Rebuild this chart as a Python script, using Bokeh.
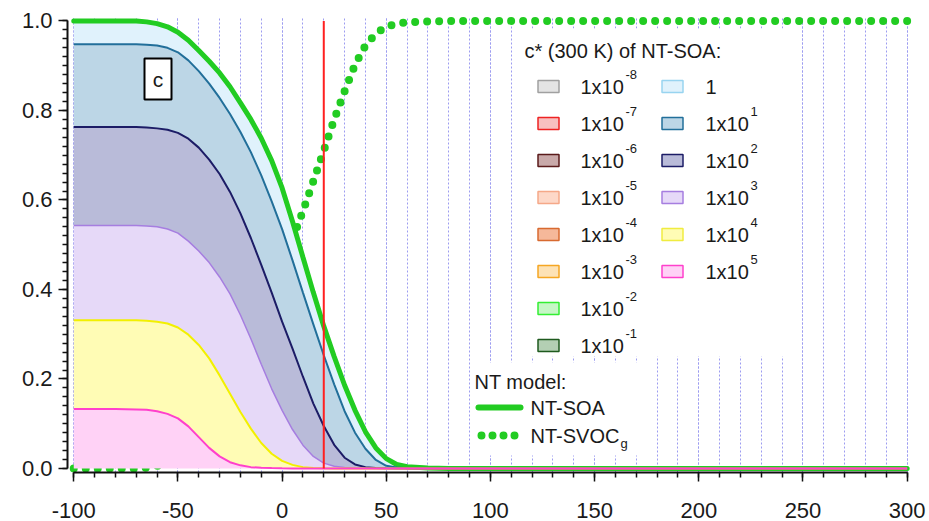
from bokeh.plotting import figure
from bokeh.models import Range1d, SingleIntervalTicker, PrintfTickFormatter
from bokeh.core.properties import value
from bokeh.embed import file_html
from bokeh.resources import INLINE

# ---------------- data ----------------
temp = [-100, -90, -80, -70, -65, -60, -55, -50, -45, -40, -35, -30, -25, -20, -15, -10, -5, 0,
        5, 10, 15, 20, 25, 30, 35, 40, 45, 50, 55, 60, 70, 80, 100, 150, 200, 250, 300]

# cumulative NT-SOA mass fraction (stack tops, highest volatility at the bottom)
cum_1e5 = [0.133, 0.133, 0.133, 0.132, 0.131, 0.128, 0.122, 0.112, 0.094, 0.070, 0.046, 0.027, 0.014,
           0.007, 0.003, 0.0015, 0.0008, 0.0004, 0.0002] + [0.0] * 18
cum_1e4 = [0.331, 0.331, 0.331, 0.331, 0.330, 0.328, 0.324, 0.315, 0.299, 0.276, 0.246, 0.208, 0.167,
           0.126, 0.089, 0.057, 0.033, 0.017, 0.008, 0.003, 0.0012, 0.0005, 0.0002] + [0.0] * 14
cum_1e3 = [0.543, 0.543, 0.543, 0.543, 0.542, 0.540, 0.535, 0.526, 0.508, 0.486, 0.460, 0.428, 0.390,
           0.343, 0.290, 0.233, 0.178, 0.130, 0.087, 0.052, 0.027, 0.012, 0.005, 0.002, 0.0008,
           0.0003] + [0.0] * 11
cum_1e2 = [0.763, 0.763, 0.763, 0.763, 0.762, 0.760, 0.757, 0.750, 0.737, 0.717, 0.690, 0.658, 0.618,
           0.570, 0.515, 0.455, 0.393, 0.328, 0.268, 0.205, 0.145, 0.095, 0.053, 0.024, 0.009, 0.003,
           0.001, 0.0003] + [0.0] * 9
cum_1e1 = [0.948, 0.948, 0.948, 0.948, 0.947, 0.945, 0.940, 0.930, 0.912, 0.888, 0.860, 0.828, 0.792,
           0.752, 0.707, 0.655, 0.597, 0.535, 0.465, 0.393, 0.322, 0.253, 0.188, 0.128, 0.080, 0.044,
           0.019, 0.006, 0.002, 0.0005] + [0.0] * 7
nt_soa = [1.0, 1.0, 1.0, 1.0, 0.998, 0.994, 0.987, 0.975, 0.957, 0.934, 0.910, 0.884, 0.853, 0.817,
          0.780, 0.738, 0.688, 0.627, 0.552, 0.472, 0.393, 0.318, 0.250, 0.186, 0.130, 0.082, 0.046,
          0.022, 0.009, 0.004, 0.001] + [0.0] * 6
nt_svoc_g = [0.0, 0.0, 0.0, 0.0, 0.002, 0.006, 0.013, 0.025, 0.043, 0.066, 0.090, 0.116, 0.147, 0.183,
             0.220, 0.262, 0.312, 0.380, 0.512, 0.575, 0.642, 0.710, 0.780, 0.843, 0.902, 0.945, 0.972,
             0.987, 0.994, 0.997, 0.999, 1.0, 1.0, 1.0, 1.0, 1.0, 1.0]

ref_temp = 20

left_labels = ["-8", "-7", "-6", "-5", "-4", "-3", "-2", "-1"]
right_labels = ["", "1", "2", "3", "4", "5"]

# ---------------- styles ----------------
left_fill = ["#e4e4e4", "#f8c0c0", "#c9a9a9", "#fdd8c8", "#f5b89a", "#fde2b5", "#c6f7c6", "#b3cfb3"]
left_line = ["#a0a0a0", "#ee2222", "#5a1a1a", "#f5a888", "#d86a30", "#f5a623", "#33ee33", "#1e5a1e"]
right_fill = ["#e0f2fc", "#bcd6e6", "#b9bbd9", "#e6d9f8", "#fffcb5", "#ffd2f6"]
right_line = ["#98d4f0", "#226f9a", "#1c1c66", "#a67ee0", "#f0ec40", "#ff40cc"]
GREEN = "#22cc22"
FONT = "Liberation Sans"

X0, X1 = -103, 304
Y0, Y1 = -0.009, 1.01
FL, FT, FW, FH = 67, 16, 848, 456


def dx(px):
    return X0 + (px - FL) / FW * (X1 - X0)


def dy(py):
    return Y1 - (py - FT) / FH * (Y1 - Y0)


p = figure(frame_width=FW, frame_height=FH, output_backend="svg", toolbar_location=None,
           x_range=Range1d(X0, X1), y_range=Range1d(Y0, Y1),
           min_border_left=FL, min_border_top=FT, min_border_right=929 - FL - FW,
           min_border_bottom=521 - FT - FH)
p.outline_line_color = None
p.background_fill_color = "white"
p.border_fill_color = "white"

# axes
p.xaxis.ticker = SingleIntervalTicker(interval=50, num_minor_ticks=5)
p.yaxis.ticker = SingleIntervalTicker(interval=0.2, num_minor_ticks=10)
p.xaxis.formatter = PrintfTickFormatter(format="%d")
p.yaxis.formatter = PrintfTickFormatter(format="%.1f")
p.xaxis.bounds = (-100, 300)
p.yaxis.bounds = (0, 1)
for ax in (p.xaxis, p.yaxis):
    ax.axis_line_width = 2
    ax.axis_line_color = "#111111"
    ax.major_tick_line_color = "#111111"
    ax.minor_tick_line_color = "#111111"
    ax.major_tick_line_width = 1.5
    ax.minor_tick_line_width = 1.5
    ax.major_tick_in = 0
    ax.minor_tick_in = 0
    ax.major_tick_out = 9
    ax.minor_tick_out = 5
    ax.major_label_text_font = FONT
    ax.major_label_text_font_size = "22px"
    ax.major_label_text_color = "#1a1a1a"
p.xaxis.major_label_standoff = 21
p.yaxis.major_label_standoff = 6

p.ygrid.grid_line_color = None
p.xgrid.grid_line_color = "#9c9cf0"
p.xgrid.grid_line_dash = "2 2"
p.xgrid.minor_grid_line_color = "#9c9cf0"
p.xgrid.minor_grid_line_dash = "2 2"

# NT-SVOC_g dotted line (drawn beneath the stacked areas)
p.line(temp, nt_svoc_g, line_color=GREEN, line_width=8, line_dash="0 12", line_cap="round")

# stacked areas
zero = [0.0] * len(temp)
stack = [zero, cum_1e5, cum_1e4, cum_1e3, cum_1e2, cum_1e1, nt_soa]
fills = [right_fill[5], right_fill[4], right_fill[3], right_fill[2], right_fill[1], right_fill[0]]
for i in range(6):
    p.varea(x=temp, y1=stack[i], y2=stack[i + 1], fill_color=fills[i], fill_alpha=1.0)

p.line(temp, nt_soa, line_color=right_line[0], line_width=1.5)
p.line(temp, nt_soa, line_color=GREEN, line_width=5, line_cap="round")
p.line(temp, cum_1e1, line_color=right_line[1], line_width=2)
p.line(temp, cum_1e2, line_color=right_line[2], line_width=2)
p.line(temp, cum_1e3, line_color=right_line[3], line_width=1.5)
p.line(temp, cum_1e4, line_color="#f2f000", line_width=2)
p.line(temp, cum_1e5, line_color=right_line[5], line_width=2)

p.segment(x0=[ref_temp], y0=[0], x1=[ref_temp], y1=[1.0], line_color="#ff2020", line_width=2)

# legend backgrounds
p.quad(left=[dx(515), dx(470)], right=[dx(792), dx(650)], top=[dy(28), dy(362)],
       bottom=[dy(356), dy(455)], fill_color="white", line_color=None)

# legend
tf = value(FONT)
p.text(x=[dx(524)], y=[dy(50)], text=["c* (300 K) of NT-SOA:"], text_font=tf,
       text_font_size=value("20px"), text_baseline="middle", text_color="#1a1a1a")
rows = [86 + 37 * i for i in range(8)]
p.rect(x=[dx(548)] * 8, y=[dy(r) for r in rows], width=21, height=12, width_units="screen",
       height_units="screen", fill_color=left_fill, line_color=left_line, line_width=1.5)
p.rect(x=[dx(672)] * 6, y=[dy(r) for r in rows[:6]], width=21, height=12, width_units="screen",
       height_units="screen", fill_color=right_fill, line_color=right_line, line_width=1.5)
p.text(x=[dx(580)] * 8, y=[dy(r) for r in rows], text=["1x10"] * 8, text_font=tf,
       text_font_size=value("20px"), text_baseline="middle", text_color="#1a1a1a")
p.text(x=[dx(625)] * 8, y=[dy(r - 12) for r in rows], text=left_labels, text_font=tf,
       text_font_size=value("13px"), text_baseline="middle", text_color="#1a1a1a")
p.text(x=[dx(705)] * 6, y=[dy(r) for r in rows[:6]], text=["1"] + ["1x10"] * 5, text_font=tf,
       text_font_size=value("20px"), text_baseline="middle", text_color="#1a1a1a")
p.text(x=[dx(750)] * 5, y=[dy(r - 12) for r in rows[1:6]], text=right_labels[1:], text_font=tf,
       text_font_size=value("13px"), text_baseline="middle", text_color="#1a1a1a")

p.text(x=[dx(474)], y=[dy(381)], text=["NT model:"], text_font=tf,
       text_font_size=value("20px"), text_baseline="middle", text_color="#1a1a1a")
p.line(x=[dx(478), dx(520)], y=[dy(407), dy(407)], line_color=GREEN, line_width=6, line_cap="round")
p.line(x=[dx(481), dx(518)], y=[dy(435), dy(435)], line_color=GREEN, line_width=8,
       line_dash="0 11", line_cap="round")
p.text(x=[dx(530), dx(530)], y=[dy(407), dy(435)], text=["NT-SOA", "NT-SVOC"], text_font=tf,
       text_font_size=value("20px"), text_baseline="middle", text_color="#1a1a1a")
p.text(x=[dx(620)], y=[dy(443)], text=["g"], text_font=tf,
       text_font_size=value("13px"), text_baseline="middle", text_color="#1a1a1a")

# panel letter
p.rect(x=[dx(157.5)], y=[dy(78.5)], width=27, height=41, width_units="screen", height_units="screen",
       fill_color="white", line_color="black", line_width=2)
p.text(x=[dx(157.5)], y=[dy(79)], text=["c"], text_font=tf, text_font_size=value("21px"),
       text_baseline="middle", text_align="center", text_color="#1a1a1a")

open("out.html", "w").write(file_html(p, INLINE))
